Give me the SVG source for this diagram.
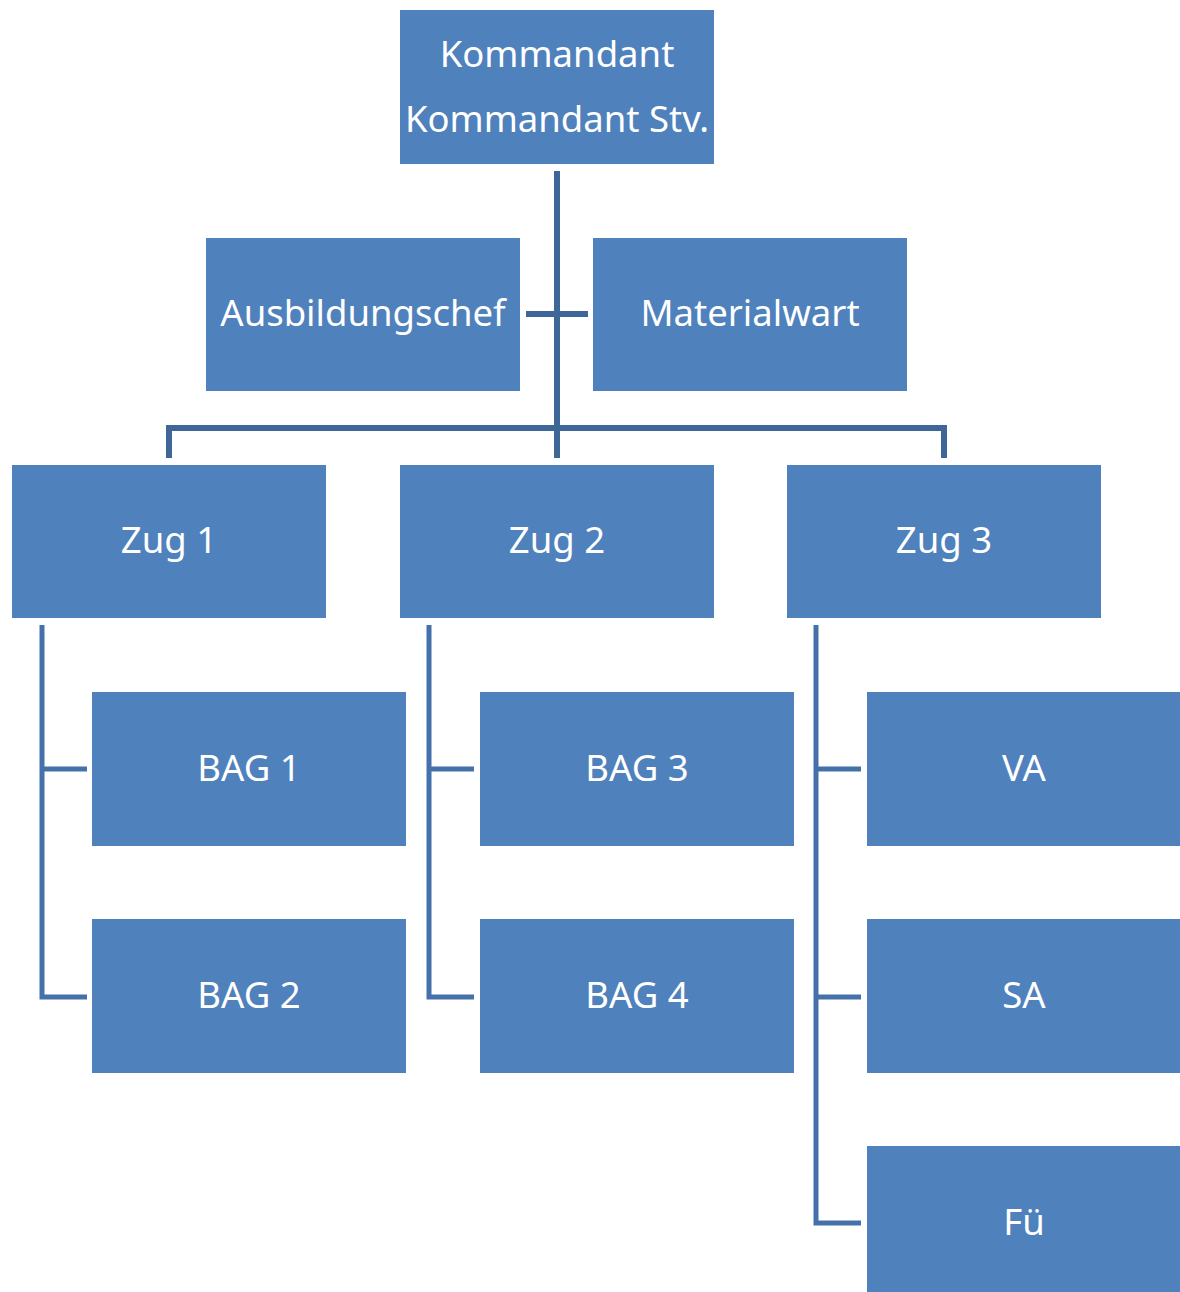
<svg xmlns="http://www.w3.org/2000/svg" width="1180" height="1292" viewBox="0 0 1180 1292">
<style>
.box{fill:#4F81BD}
.t{font-family:"Noto Sans","Open Sans",sans-serif;font-size:36.5px;fill:#FFFFFF;text-anchor:middle}
.c1{fill:none;stroke:#3E6696;stroke-width:6}
.c2{fill:none;stroke:#4571AB;stroke-width:5}
</style>
<rect width="1180" height="1292" fill="#FFFFFF"/>
<g id="connectors">
<path class="c1" d="M557,171 V458 M526,314 H588 M169,458 V428 H944 V458"/>
<path class="c2" d="M42,625 V997 H87 M42,769 H87"/>
<path class="c2" d="M429,625 V997 H474 M429,769 H474"/>
<path class="c2" d="M816,625 V1223 H861 M816,769 H861 M816,997 H861"/>
</g>
<g id="kommandant"><rect class="box" x="400" y="10" width="314" height="154"/><text class="t" x="557" y="67">Kommandant</text><text class="t" x="557" y="132">Kommandant Stv.</text></g>
<g id="ausbildungschef"><rect class="box" x="206" y="238" width="314" height="153"/><text class="t" x="363" y="326">Ausbildungschef</text></g>
<g id="materialwart"><rect class="box" x="593" y="238" width="314" height="153"/><text class="t" x="750" y="326">Materialwart</text></g>
<g id="zug1"><rect class="box" x="12" y="465" width="314" height="153"/><text class="t" x="169" y="553">Zug 1</text></g>
<g id="zug2"><rect class="box" x="400" y="465" width="314" height="153"/><text class="t" x="557" y="553">Zug 2</text></g>
<g id="zug3"><rect class="box" x="787" y="465" width="314" height="153"/><text class="t" x="944" y="553">Zug 3</text></g>
<g id="bag1"><rect class="box" x="92" y="692" width="314" height="154"/><text class="t" x="249" y="781">BAG 1</text></g>
<g id="bag2"><rect class="box" x="92" y="919" width="314" height="154"/><text class="t" x="249" y="1008">BAG 2</text></g>
<g id="bag3"><rect class="box" x="480" y="692" width="314" height="154"/><text class="t" x="637" y="781">BAG 3</text></g>
<g id="bag4"><rect class="box" x="480" y="919" width="314" height="154"/><text class="t" x="637" y="1008">BAG 4</text></g>
<g id="va"><rect class="box" x="867" y="692" width="314" height="154"/><text class="t" x="1024" y="781">VA</text></g>
<g id="sa"><rect class="box" x="867" y="919" width="314" height="154"/><text class="t" x="1024" y="1008">SA</text></g>
<g id="fue"><rect class="box" x="867" y="1146" width="314" height="154"/><text class="t" x="1024" y="1235">Fü</text></g>
</svg>
